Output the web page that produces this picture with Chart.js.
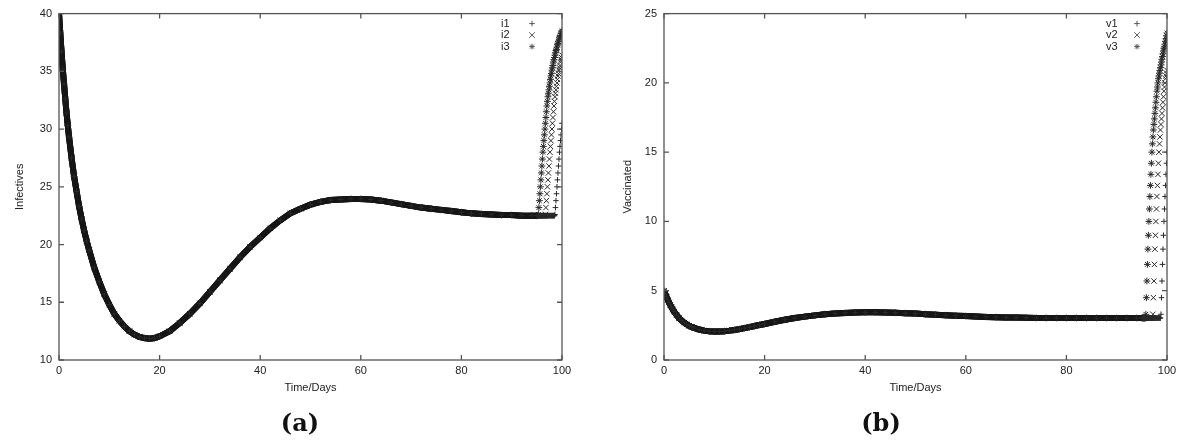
<!DOCTYPE html>
<html>
<head>
<meta charset="utf-8">
<script src="https://cdn.jsdelivr.net/npm/chart.js@4.4.1/dist/chart.umd.min.js"></script>
<style>
  body { margin: 0; background: #fff; }
  #wrap { position: relative; width: 1200px; height: 444px; }
  canvas { position: absolute; top: 0; }
  .cap { position: absolute; top: 422px; transform: translate(-50%, -50%); font: bold 24px "DejaVu Serif", serif; color: #111; }
</style>
</head>
<body>
<div id="wrap">
  <canvas id="canvas1" width="600" height="444" style="left:0"></canvas>
  <canvas id="canvas2" width="600" height="444" style="left:600px"></canvas>
  <div class="cap" style="left:300px">(a)</div>
  <div class="cap" style="left:881px">(b)</div>
</div>
<script>
// days of the shared part of the curves (all three series overlap here)
var mainDays = [0, 0.25, 0.5, 0.75, 1, 1.25, 1.5, 1.75, 2, 2.5, 3, 3.5, 4, 4.5, 5, 5.5, 6,
  7, 8, 9, 10, 11, 12, 13, 14, 15, 16, 17, 18, 19, 20,
  22, 24, 26, 28, 30, 32, 34, 36, 38, 40, 42, 44, 46, 48, 50, 52, 54, 56, 58, 60,
  62, 64, 66, 68, 70, 72, 74, 76, 78, 80, 82, 84, 86, 88, 90, 92, 94];

var infectMain = [40.0, 38.3, 36.7, 35.2, 33.9, 32.6, 31.4, 30.3, 29.3, 27.5, 25.9, 24.6, 23.3, 22.2, 21.2, 20.3, 19.5,
  18.0, 16.8, 15.7, 14.8, 14.0, 13.4, 12.9, 12.5, 12.2, 12.0, 11.9, 11.85, 11.9, 12.05,
  12.5, 13.2, 14.0, 14.9, 15.9, 16.9, 17.9, 18.9, 19.8, 20.6, 21.4, 22.1, 22.7, 23.1, 23.45, 23.7, 23.85, 23.9, 23.95, 23.95,
  23.9, 23.8, 23.65, 23.5, 23.35, 23.2, 23.1, 23.0, 22.9, 22.8, 22.7, 22.65, 22.6, 22.55, 22.55, 22.5, 22.5];

var vaccMain = [5.0, 4.77, 4.55, 4.34, 4.15, 3.97, 3.8, 3.64, 3.5, 3.25, 3.02, 2.85, 2.7, 2.58, 2.47, 2.39, 2.32,
  2.2, 2.12, 2.07, 2.05, 2.05, 2.08, 2.12, 2.17, 2.23, 2.3, 2.37, 2.45, 2.53, 2.6,
  2.76, 2.9, 3.03, 3.13, 3.22, 3.3, 3.36, 3.4, 3.43, 3.44, 3.44, 3.43, 3.41, 3.38, 3.35, 3.31, 3.27, 3.23, 3.2, 3.17,
  3.14, 3.11, 3.09, 3.07, 3.06, 3.05, 3.04, 3.03, 3.03, 3.03, 3.03, 3.03, 3.03, 3.03, 3.03, 3.03, 3.03];

// last five days, where the series split
var tailDays = [95, 95.1, 95.2, 95.3, 95.4, 95.5, 95.6, 95.7, 95.8, 95.9,
  96, 96.1, 96.2, 96.3, 96.4, 96.5, 96.6, 96.7, 96.8, 96.9,
  97, 97.1, 97.2, 97.3, 97.4, 97.5, 97.6, 97.7, 97.8, 97.9,
  98, 98.1, 98.2, 98.3, 98.4, 98.5, 98.6, 98.7, 98.8, 98.9,
  99, 99.1, 99.2, 99.3, 99.4, 99.5, 99.6, 99.7, 99.8, 99.9, 100];

var i1Tail = [22.5, 22.5, 22.5, 22.5, 22.5, 22.5, 22.5, 22.5, 22.5, 22.5,
  22.5, 22.5, 22.5, 22.5, 22.5, 22.5, 22.5, 22.5, 22.5, 22.5,
  22.5, 22.5, 22.5, 22.5, 22.5, 22.5, 22.5, 22.5, 22.5, 22.5,
  22.5, 22.5, 22.5, 22.5, 22.5, 22.5, 22.6, 23.2, 23.8, 24.4,
  25.0, 25.6, 26.2, 26.8, 27.4, 28.0, 28.5, 29.0, 29.5, 30.0, 30.5];
var i2Tail = [22.5, 22.5, 22.5, 22.5, 22.5, 22.5, 22.5, 22.5, 22.5, 22.5,
  22.5, 22.5, 22.5, 22.5, 22.5, 22.5, 22.5, 22.6, 23.2, 23.8,
  24.4, 25.0, 25.6, 26.2, 26.8, 27.4, 28.0, 28.5, 29.0, 29.5,
  30.0, 30.5, 31.0, 31.5, 32.0, 32.4, 32.8, 33.1, 33.4, 33.7,
  34.0, 34.3, 34.6, 34.8, 35.1, 35.3, 35.5, 35.8, 36.0, 36.2, 36.4];
var i3Tail = [22.5, 22.5, 22.5, 22.6, 23.2, 23.8, 24.4, 25.0, 25.6, 26.2,
  26.8, 27.4, 28.0, 28.5, 29.0, 29.5, 30.0, 30.5, 31.0, 31.5,
  32.0, 32.4, 32.8, 33.1, 33.4, 33.7, 34.0, 34.3, 34.6, 34.8,
  35.1, 35.3, 35.5, 35.8, 36.0, 36.2, 36.4, 36.6, 36.8, 36.9,
  37.1, 37.3, 37.4, 37.6, 37.7, 37.9, 38.0, 38.1, 38.3, 38.4, 38.5];

var v1Tail = [3.03, 3.03, 3.03, 3.03, 3.03, 3.03, 3.03, 3.03, 3.03, 3.03,
  3.03, 3.03, 3.03, 3.03, 3.03, 3.03, 3.03, 3.03, 3.03, 3.03,
  3.03, 3.03, 3.03, 3.03, 3.03, 3.03, 3.03, 3.03, 3.03, 3.03,
  3.03, 3.03, 3.03, 3.03, 3.03, 3.03, 3.03, 3.03, 3.3, 4.5,
  5.7, 6.9, 8.0, 9.0, 10.0, 10.9, 11.8, 12.6, 13.4, 14.2, 15.0];
var v2Tail = [3.03, 3.03, 3.03, 3.03, 3.03, 3.03, 3.03, 3.03, 3.03, 3.03,
  3.03, 3.03, 3.03, 3.03, 3.03, 3.03, 3.03, 3.03, 3.03, 3.03,
  3.03, 3.03, 3.3, 4.5, 5.7, 6.9, 8.0, 9.0, 10.0, 10.9,
  11.8, 12.6, 13.4, 14.2, 15.0, 15.6, 16.1, 16.6, 17.0, 17.4,
  17.8, 18.2, 18.6, 19.0, 19.4, 19.7, 20.0, 20.3, 20.5, 20.7, 20.9];
var v3Tail = [3.03, 3.03, 3.03, 3.03, 3.03, 3.03, 3.03, 3.03, 3.3, 4.5,
  5.7, 6.9, 8.0, 9.0, 10.0, 10.9, 11.8, 12.6, 13.4, 14.2,
  15.0, 15.6, 16.1, 16.6, 17.0, 17.4, 17.8, 18.2, 18.6, 19.0,
  19.4, 19.7, 20.0, 20.3, 20.5, 20.7, 20.9, 21.1, 21.3, 21.5,
  21.7, 21.9, 22.1, 22.3, 22.5, 22.6, 22.8, 23.0, 23.2, 23.4, 23.6];

var marks = ['cross', 'crossRot', 'star'];
var markSize = [2.8, 3.8, 3.4];
var ink = '#151515';
var axisGrey = '#555';

function points(main, tail) {
  var pts = mainDays.map(function (d, k) { return { x: d, y: main[k] }; });
  return pts.concat(tailDays.map(function (d, k) { return { x: d, y: tail[k] }; }));
}

function drawMark(ctx, style, x, y, r) {
  ctx.beginPath();
  if (style !== 'crossRot') {
    ctx.moveTo(x - r, y); ctx.lineTo(x + r, y);
    ctx.moveTo(x, y - r); ctx.lineTo(x, y + r);
  }
  if (style !== 'cross') {
    var d = style === 'star' ? r * Math.SQRT1_2 : r;
    ctx.moveTo(x - d, y - d); ctx.lineTo(x + d, y + d);
    ctx.moveTo(x - d, y + d); ctx.lineTo(x + d, y - d);
  }
  ctx.stroke();
}

// gnuplot-like box with inward ticks on all four sides, and the key
var framePlugin = {
  id: 'frame',
  afterDatasetsDraw: function (chart) {
    var ctx = chart.ctx, a = chart.chartArea;
    var xs = chart.scales.x, ys = chart.scales.y;
    ctx.save();
    ctx.strokeStyle = axisGrey;
    ctx.lineWidth = 1.3;
    ctx.strokeRect(a.left, a.top, a.right - a.left, a.bottom - a.top);
    ctx.beginPath();
    xs.ticks.forEach(function (t) {
      var px = xs.getPixelForValue(t.value);
      ctx.moveTo(px, a.bottom); ctx.lineTo(px, a.bottom - 5);
      ctx.moveTo(px, a.top); ctx.lineTo(px, a.top + 5);
    });
    ys.ticks.forEach(function (t) {
      var py = ys.getPixelForValue(t.value);
      ctx.moveTo(a.left, py); ctx.lineTo(a.left + 5, py);
      ctx.moveTo(a.right, py); ctx.lineTo(a.right - 5, py);
    });
    ctx.stroke();

    ctx.font = '11px "Liberation Sans", Arial, sans-serif';
    ctx.textBaseline = 'middle';
    ctx.fillStyle = '#222';
    chart.data.datasets.forEach(function (ds, k) {
      var y = a.top + 10 + k * 11.5;
      ctx.fillText(ds.label, a.right - 61, y);
      ctx.strokeStyle = '#555';
      ctx.lineWidth = 1;
      drawMark(ctx, ds.pointStyle, a.right - 30, y, 2.8);
    });
    ctx.restore();
  }
};

function makePanel(canvasId, names, mains, tails, yMin, yMax, yTitle, leftW, rightPad, titlePad) {
  var datasets = names.map(function (name, k) {
    return {
      label: name,
      data: points(mains, tails[k]),
      showLine: true,
      borderColor: ink,
      borderWidth: 6,
      segment: {
        borderColor: function (c) { return c.p0.parsed.x >= 95 ? 'rgba(0,0,0,0)' : undefined; }
      },
      pointStyle: marks[k],
      pointRadius: markSize[k],
      pointBorderWidth: 1,
      pointBorderColor: '#2a2a2a',
      pointBackgroundColor: 'rgba(0,0,0,0)'
    };
  });
  var tickFont = { family: '"Liberation Sans", Arial, sans-serif', size: 11 };
  return new Chart(document.getElementById(canvasId).getContext('2d'), {
    type: 'scatter',
    data: { datasets: datasets },
    plugins: [framePlugin],
    options: {
      responsive: false,
      animation: false,
      layout: { padding: { top: 6, right: rightPad, bottom: 48, left: 0 } },
      plugins: { legend: { display: false }, tooltip: { enabled: false } },
      scales: {
        x: {
          type: 'linear', min: 0, max: 100,
          grid: { display: false, drawTicks: false },
          border: { display: false },
          ticks: { stepSize: 20, padding: 4, color: '#222', font: tickFont },
          title: { display: true, text: 'Time/Days', color: '#222', font: tickFont, padding: { top: 0, bottom: 1 } },
          afterFit: function (s) { s.height = 36; }
        },
        y: {
          min: yMin, max: yMax,
          grid: { display: false, drawTicks: false },
          border: { display: false },
          ticks: { stepSize: 5, padding: 7, color: '#222', font: tickFont },
          title: { display: true, text: yTitle, color: '#222', font: tickFont, padding: { top: titlePad, bottom: 0 } },
          afterFit: function (s) { s.width = leftW; }
        }
      }
    }
  });
}

var chart1 = makePanel('canvas1', ['i1', 'i2', 'i3'], infectMain, [i1Tail, i2Tail, i3Tail], 10, 40, 'Infectives', 59, 38, 13);
var chart2 = makePanel('canvas2', ['v1', 'v2', 'v3'], vaccMain, [v1Tail, v2Tail, v3Tail], 0, 25, 'Vaccinated', 64, 33, 21);
</script>
</body>
</html>
